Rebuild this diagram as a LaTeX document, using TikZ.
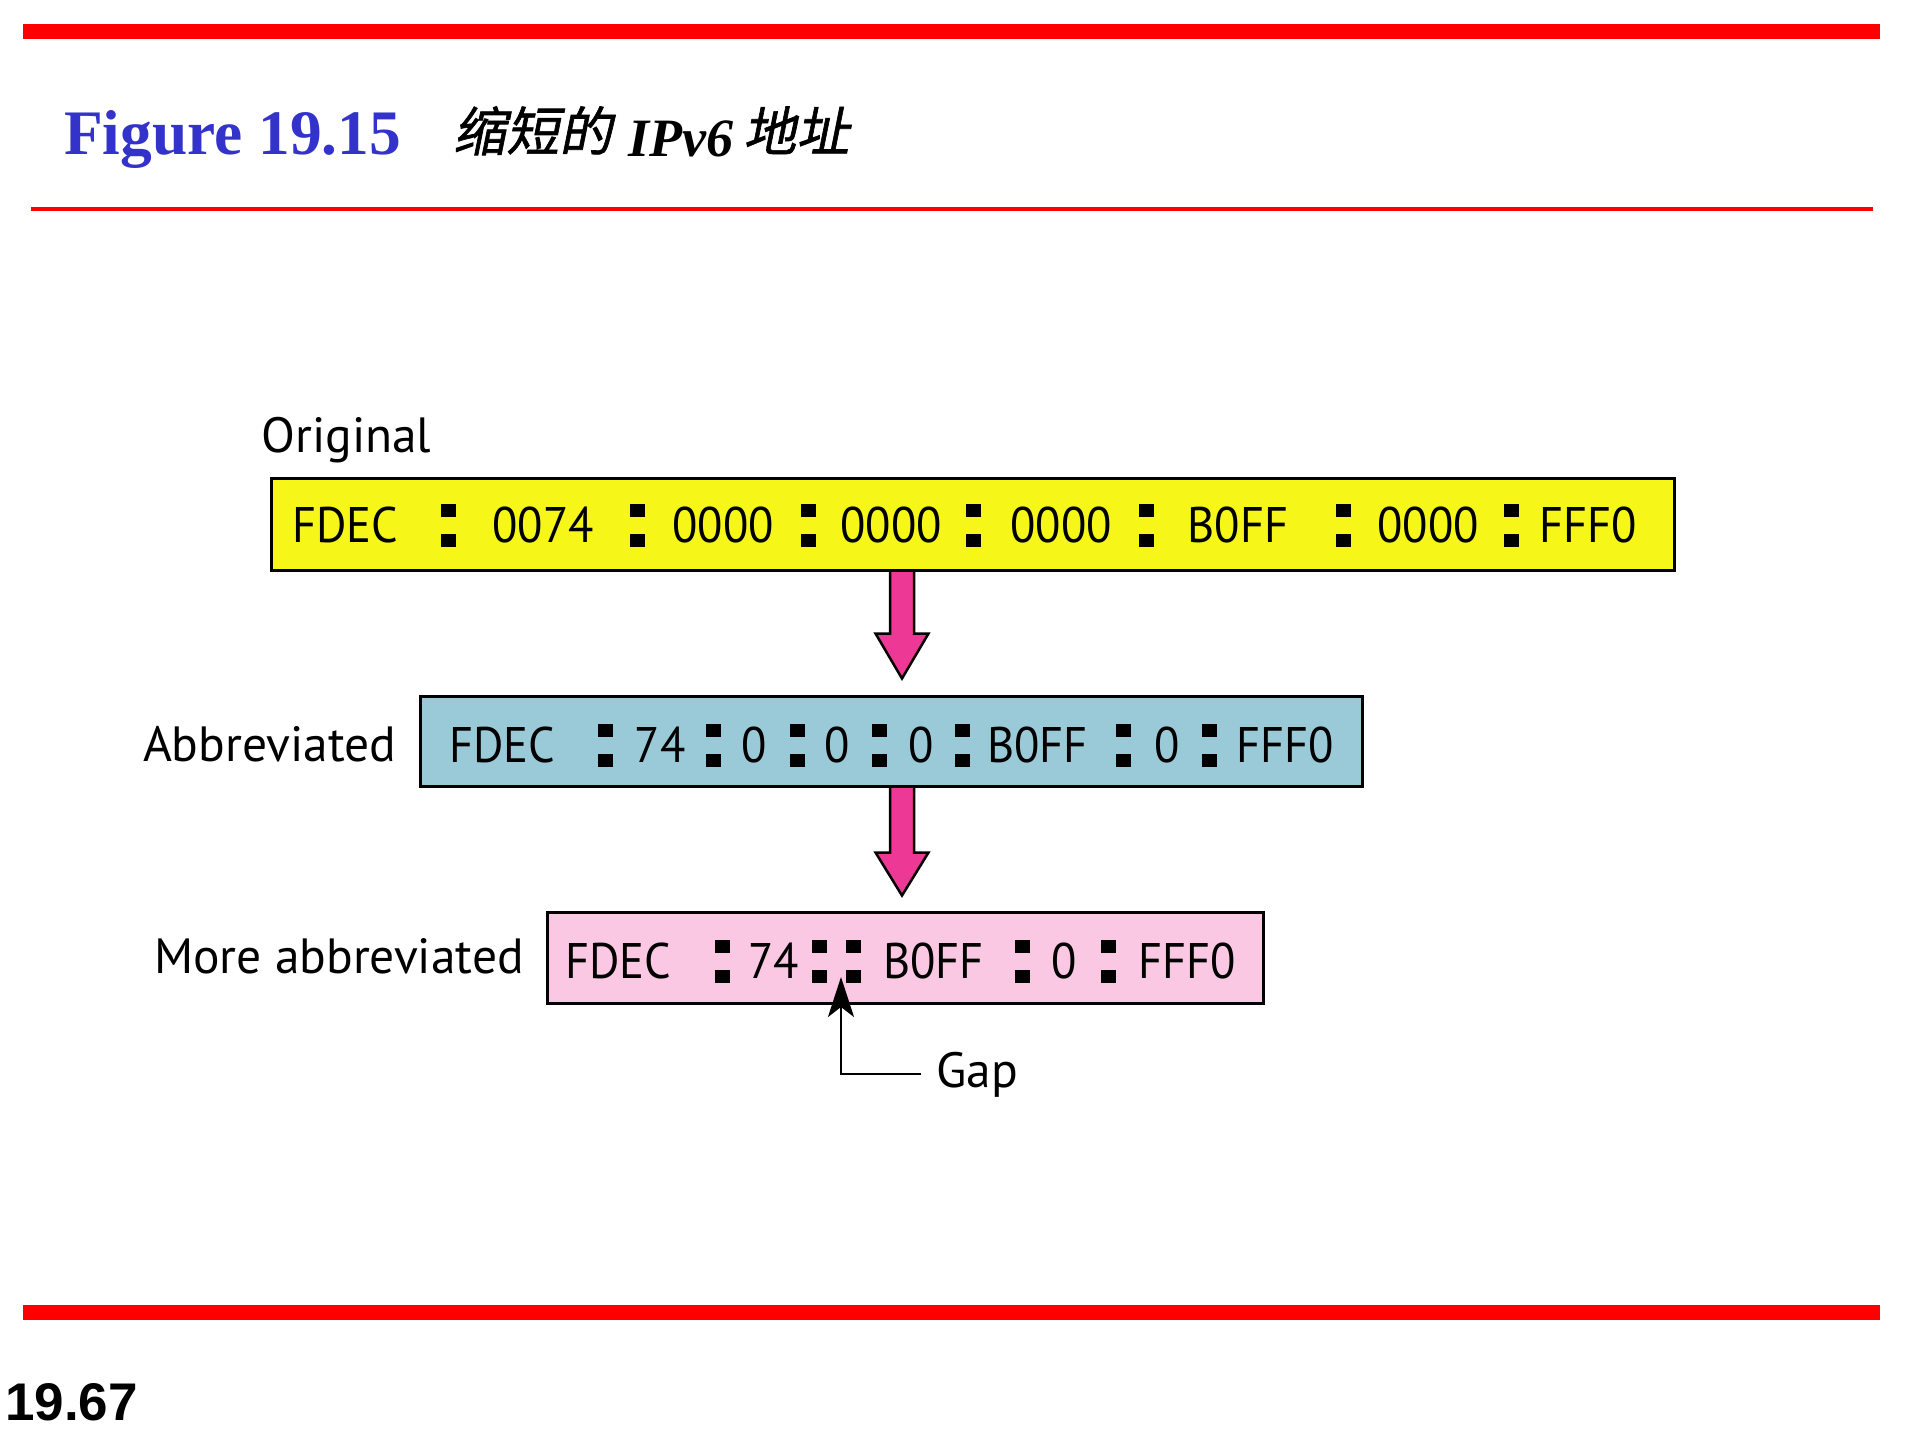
\documentclass[tikz,border=0pt]{standalone}
\usepackage{fontspec}
\usetikzlibrary{calc,arrows.meta}
\setmainfont{Liberation Serif}
\newfontfamily\boxfont[FakeStretch=0.93]{PT Sans}
\newfontfamily\lblfont{PT Sans}
\newfontfamily\cjkfont[FakeSlant=0.2,FakeBold=1.2]{Noto Sans CJK SC}
\newfontfamily\titlefont{Liberation Serif}
\newfontfamily\pagefont{Liberation Sans}
\definecolor{ipred}{RGB}{255,0,0}
\definecolor{ipyellow}{RGB}{246,246,24}
\definecolor{ipblue}{RGB}{154,202,216}
\definecolor{ippink}{RGB}{251,200,227}
\definecolor{arrowpink}{RGB}{238,56,150}
\definecolor{titleblue}{RGB}{51,51,204}
\newcommand\ipcolon[2]{%
  \fill (#1-7.5,#2-38) rectangle (#1+7.5,#2-25);
  \fill (#1-7.5,#2-8) rectangle (#1+7.5,#2+5);}
\begin{document}
\begin{tikzpicture}[x=1pt,y=-1pt,
  tok/.style={anchor=base, inner sep=0pt, font=\boxfont\fontsize{50}{50}\selectfont},
  lbl/.style={anchor=base, inner sep=0pt, font=\lblfont\fontsize{49.5}{50}\selectfont},
  addr/.style={draw=black, line width=3pt, inner sep=0pt, outer sep=0pt},
  barrow/.style={fill=arrowpink, draw=black, line width=2.5pt, line join=miter},
  gaparrow/.style={draw=black, line width=2.5pt, -{Stealth[length=40pt,width=26pt,inset=10pt]}},
]
\useasboundingbox (0,0) rectangle (1920,1440);
% red rules
\fill[ipred] (23,24) rectangle (1880,39);
\fill[ipred] (31,206.5) rectangle (1873,210.5);
\fill[ipred] (23,1305) rectangle (1880,1320);
% title
\node[anchor=base west, inner sep=0pt, text=titleblue, font=\titlefont\bfseries\fontsize{63.4}{64}\selectfont] (title) at (64,154) {Figure 19.15};
\node[anchor=base west, inner sep=0pt, font=\cjkfont\fontsize{53}{53}\selectfont] (t1) at (453,151) {缩短的};
\node[anchor=base west, inner sep=0pt, font=\titlefont\bfseries\itshape\fontsize{54}{54}\selectfont] (t2) at (628,156) {IPv6};
\node[anchor=base west, inner sep=0pt, font=\cjkfont\fontsize{53}{53}\selectfont] (t3) at (743,151) {地址};
% boxes
\node[addr, fill=ipyellow, minimum width=1403pt, minimum height=92pt] (ybox) at (973,524.5) {};
\node[addr, fill=ipblue, minimum width=942pt, minimum height=90pt] (bbox) at (891.5,741.5) {};
\node[addr, fill=ippink, minimum width=716pt, minimum height=91pt] (pbox) at (905.5,958) {};
% labels
\node[lbl] (lorig) at (346.5,452) {Original};
\node[lbl] (labbr) at (269.5,761) {Abbreviated};
\node[lbl] (lmore) at (339,973) {More abbreviated};
% block arrows
\coordinate (ax) at (902,0);
\coordinate (tip1) at ($(bbox.north -| ax)+(0,-18)$);
\coordinate (tip2) at ($(pbox.north -| ax)+(0,-17)$);
\path[barrow] ($(ybox.south -| ax)+(-12,1.5)$) -- ($(tip1)+(-12,-45)$) -- ($(tip1)+(-26.5,-45)$) -- (tip1) -- ($(tip1)+(26.5,-45)$) -- ($(tip1)+(12,-45)$) -- ($(ybox.south -| ax)+(12,1.5)$);
\path[barrow] ($(bbox.south -| ax)+(-12,1.5)$) -- ($(tip2)+(-12,-43)$) -- ($(tip2)+(-26.5,-43)$) -- (tip2) -- ($(tip2)+(26.5,-43)$) -- ($(tip2)+(12,-43)$) -- ($(bbox.south -| ax)+(12,1.5)$);
% yellow row
\node[tok] (y1) at (345,542) {FDEC};
\node[tok] (y2) at (543,542) {0074};
\node[tok] (y3) at (723,542) {0000};
\node[tok] (y4) at (891,542) {0000};
\node[tok] (y5) at (1061,542) {0000};
\node[tok] (y6) at (1238,542) {B0FF};
\node[tok] (y7) at (1428,542) {0000};
\node[tok] (y8) at (1588,542) {FFF0};
\foreach \cx in {448,637,808,973,1146,1343,1511} {\ipcolon{\cx}{542}}
% blue row
\node[tok] (b1) at (502,762) {FDEC};
\node[tok] (b2) at (660,762) {74};
\node[tok] (b3) at (754.5,762) {0};
\node[tok] (b4) at (837.5,762) {0};
\node[tok] (b5) at (921,762) {0};
\node[tok] (b6) at (1037.5,762) {B0FF};
\node[tok] (b7) at (1167,762) {0};
\node[tok] (b8) at (1285,762) {FFF0};
\foreach \cx in {605,713,797,879,962,1123,1209} {\ipcolon{\cx}{762}}
% pink row
\node[tok] (p1) at (618,978) {FDEC};
\node[tok] (p2) at (773.5,978) {74};
\node[tok] (p3) at (933.5,978) {B0FF};
\node[tok] (p4) at (1064,978) {0};
\node[tok] (p5) at (1187,978) {FFF0};
\foreach \cx in {722,819,853,1022,1108} {\ipcolon{\cx}{978}}
% gap
\node[lbl] (gap) at (977,1087) {Gap};
\coordinate (gapstart) at (921,1074);
\coordinate (gaptip) at (841,977);
\draw[gaparrow] (gapstart) -| (gaptip);
% page number
\node[anchor=base west, inner sep=0pt, font=\pagefont\bfseries\fontsize{53}{53}\selectfont] (pnum) at (5,1420) {19.67};
\end{tikzpicture}
\end{document}
